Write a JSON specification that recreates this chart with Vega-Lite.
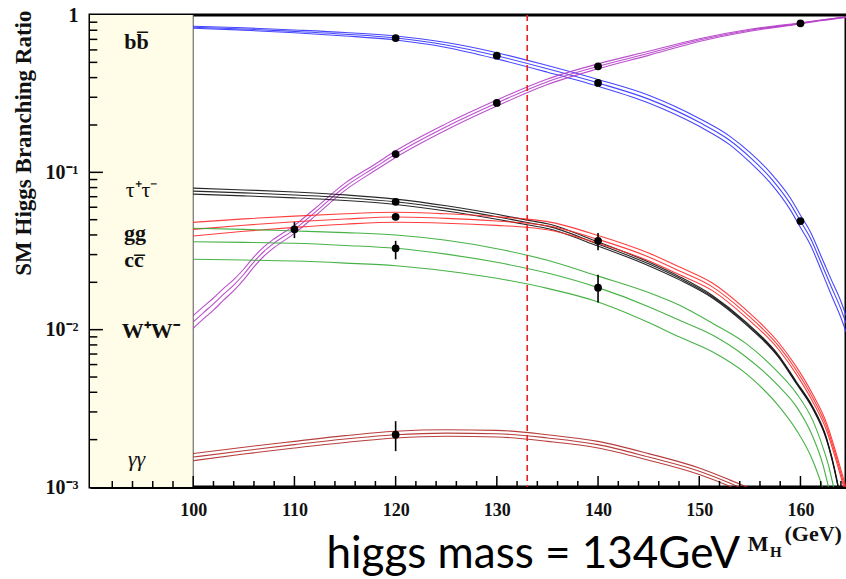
{
  "$schema": "https://vega.github.io/schema/vega-lite/v6.json",
  "width": 756,
  "height": 472,
  "autosize": {"type": "none"},
  "padding": {"left": 90, "top": 15, "right": 0, "bottom": 92},
  "background": "white",
  "config": {"view": {"stroke": "black", "strokeWidth": 3}},
  "datasets": {
    "curves": [
      {"ch":"bb","m":100,"lo":0.823,"mid":0.835,"hi":0.848},
      {"ch":"bb","m":105,"lo":0.801,"mid":0.815,"hi":0.829},
      {"ch":"bb","m":110,"lo":0.771,"mid":0.787,"hi":0.803},
      {"ch":"bb","m":115,"lo":0.736,"mid":0.755,"hi":0.774},
      {"ch":"bb","m":120,"lo":0.693,"mid":0.714,"hi":0.735},
      {"ch":"bb","m":125,"lo":0.622,"mid":0.645,"hi":0.668},
      {"ch":"bb","m":130,"lo":0.526,"mid":0.551,"hi":0.576},
      {"ch":"bb","m":135,"lo":0.433,"mid":0.455,"hi":0.477},
      {"ch":"bb","m":140,"lo":0.352,"mid":0.370,"hi":0.389},
      {"ch":"bb","m":145,"lo":0.276,"mid":0.292,"hi":0.309},
      {"ch":"bb","m":150,"lo":0.196,"mid":0.208,"hi":0.220},
      {"ch":"bb","m":153,"lo":0.150,"mid":0.160,"hi":0.170},
      {"ch":"bb","m":155,"lo":0.116,"mid":0.125,"hi":0.134},
      {"ch":"bb","m":157,"lo":0.086,"mid":0.093,"hi":0.100},
      {"ch":"bb","m":159,"lo":0.0577,"mid":0.063,"hi":0.0687},
      {"ch":"bb","m":160,"lo":0.0446,"mid":0.049,"hi":0.0534},
      {"ch":"bb","m":161,"lo":0.0344,"mid":0.038,"hi":0.0416},
      {"ch":"bb","m":162,"lo":0.0243,"mid":0.027,"hi":0.0297},
      {"ch":"bb","m":163,"lo":0.0169,"mid":0.019,"hi":0.0211},
      {"ch":"bb","m":164,"lo":0.0119,"mid":0.0135,"hi":0.0151},
      {"ch":"bb","m":164.5,"lo":0.0097,"mid":0.011,"hi":0.0123},

      {"ch":"WW","m":100,"lo":0.0102,"mid":0.0112,"hi":0.0123},
      {"ch":"WW","m":101,"lo":0.0117,"mid":0.0128,"hi":0.0140},
      {"ch":"WW","m":102,"lo":0.0133,"mid":0.0146,"hi":0.0159},
      {"ch":"WW","m":103,"lo":0.0154,"mid":0.0168,"hi":0.0183},
      {"ch":"WW","m":104,"lo":0.0177,"mid":0.0192,"hi":0.0208},
      {"ch":"WW","m":105,"lo":0.0208,"mid":0.0225,"hi":0.0243},
      {"ch":"WW","m":106,"lo":0.0251,"mid":0.0270,"hi":0.0290},
      {"ch":"WW","m":107,"lo":0.0294,"mid":0.0315,"hi":0.0337},
      {"ch":"WW","m":108,"lo":0.0333,"mid":0.0355,"hi":0.0378},
      {"ch":"WW","m":110,"lo":0.0409,"mid":0.0434,"hi":0.0460},
      {"ch":"WW","m":112,"lo":0.0525,"mid":0.0555,"hi":0.0587},
      {"ch":"WW","m":115,"lo":0.0768,"mid":0.081,"hi":0.0854},
      {"ch":"WW","m":118,"lo":0.103,"mid":0.108,"hi":0.113},
      {"ch":"WW","m":120,"lo":0.1244,"mid":0.1306,"hi":0.137},
      {"ch":"WW","m":125,"lo":0.186,"mid":0.195,"hi":0.204},
      {"ch":"WW","m":130,"lo":0.264,"mid":0.276,"hi":0.288},
      {"ch":"WW","m":135,"lo":0.362,"mid":0.377,"hi":0.392},
      {"ch":"WW","m":140,"lo":0.455,"mid":0.472,"hi":0.489},
      {"ch":"WW","m":145,"lo":0.554,"mid":0.571,"hi":0.588},
      {"ch":"WW","m":150,"lo":0.679,"mid":0.693,"hi":0.707},
      {"ch":"WW","m":155,"lo":0.789,"mid":0.800,"hi":0.811},
      {"ch":"WW","m":160,"lo":0.878,"mid":0.885,"hi":0.892},
      {"ch":"WW","m":162,"lo":0.920,"mid":0.925,"hi":0.930},
      {"ch":"WW","m":164.5,"lo":0.966,"mid":0.970,"hi":0.974},

      {"ch":"tt","m":100,"lo":0.0727,"mid":0.076,"hi":0.0794},
      {"ch":"tt","m":105,"lo":0.0709,"mid":0.074,"hi":0.0773},
      {"ch":"tt","m":110,"lo":0.0688,"mid":0.0718,"hi":0.0750},
      {"ch":"tt","m":115,"lo":0.0662,"mid":0.069,"hi":0.0719},
      {"ch":"tt","m":120,"lo":0.0625,"mid":0.065,"hi":0.0676},
      {"ch":"tt","m":125,"lo":0.0568,"mid":0.059,"hi":0.0613},
      {"ch":"tt","m":130,"lo":0.0503,"mid":0.0522,"hi":0.0541},
      {"ch":"tt","m":133,"lo":0.0464,"mid":0.048,"hi":0.0497},
      {"ch":"tt","m":135,"lo":0.0440,"mid":0.0455,"hi":0.0471},
      {"ch":"tt","m":140,"lo":0.0340,"mid":0.035,"hi":0.0361},
      {"ch":"tt","m":145,"lo":0.0255,"mid":0.0262,"hi":0.0269},
      {"ch":"tt","m":148,"lo":0.0208,"mid":0.0213,"hi":0.0218},
      {"ch":"tt","m":151.3,"lo":0.0159,"mid":0.0162,"hi":0.0165},
      {"ch":"tt","m":154.6,"lo":0.0108,"mid":0.011,"hi":0.0112},
      {"ch":"tt","m":157.9,"lo":0.0066,"mid":0.0067,"hi":0.0068},
      {"ch":"tt","m":159.6,"lo":0.00453,"mid":0.0046,"hi":0.00467},
      {"ch":"tt","m":161.2,"lo":0.00315,"mid":0.0032,"hi":0.00325},
      {"ch":"tt","m":162.6,"lo":0.00197,"mid":0.0020,"hi":0.00203},
      {"ch":"tt","m":163.6,"lo":0.00108,"mid":0.0011,"hi":0.00112},
      {"ch":"tt","m":164.0,"lo":0.00079,"mid":0.0008,"hi":0.00081},

      {"ch":"gg","m":100,"lo":0.0394,"mid":0.0434,"hi":0.0481},
      {"ch":"gg","m":105,"lo":0.0422,"mid":0.0461,"hi":0.0506},
      {"ch":"gg","m":110,"lo":0.0447,"mid":0.0485,"hi":0.0527},
      {"ch":"gg","m":115,"lo":0.0468,"mid":0.0505,"hi":0.0545},
      {"ch":"gg","m":120,"lo":0.0482,"mid":0.0520,"hi":0.0558},
      {"ch":"gg","m":125,"lo":0.0475,"mid":0.0510,"hi":0.0545},
      {"ch":"gg","m":130,"lo":0.0460,"mid":0.0490,"hi":0.0522},
      {"ch":"gg","m":133,"lo":0.0447,"mid":0.0475,"hi":0.0504},
      {"ch":"gg","m":135,"lo":0.0432,"mid":0.0458,"hi":0.0486},
      {"ch":"gg","m":140,"lo":0.0354,"mid":0.0375,"hi":0.0397},
      {"ch":"gg","m":145,"lo":0.0274,"mid":0.0290,"hi":0.0307},
      {"ch":"gg","m":148,"lo":0.0224,"mid":0.0237,"hi":0.0251},
      {"ch":"gg","m":151.3,"lo":0.0177,"mid":0.0187,"hi":0.0198},
      {"ch":"gg","m":154.6,"lo":0.0120,"mid":0.0127,"hi":0.0134},
      {"ch":"gg","m":157.9,"lo":0.0074,"mid":0.0078,"hi":0.0082},
      {"ch":"gg","m":159.6,"lo":0.0052,"mid":0.0055,"hi":0.0058},
      {"ch":"gg","m":161.2,"lo":0.0035,"mid":0.0037,"hi":0.0039},
      {"ch":"gg","m":162.6,"lo":0.00227,"mid":0.0024,"hi":0.00253},
      {"ch":"gg","m":163.6,"lo":0.00142,"mid":0.0015,"hi":0.00158},
      {"ch":"gg","m":164.2,"lo":0.00104,"mid":0.0011,"hi":0.00116},
      {"ch":"gg","m":164.5,"lo":0.0009,"mid":0.00095,"hi":0.001},

      {"ch":"cc","m":100,"lo":0.0280,"mid":0.0362,"hi":0.0441},
      {"ch":"cc","m":105,"lo":0.0277,"mid":0.0359,"hi":0.0434},
      {"ch":"cc","m":110,"lo":0.0273,"mid":0.0354,"hi":0.0424},
      {"ch":"cc","m":115,"lo":0.0265,"mid":0.0343,"hi":0.0414},
      {"ch":"cc","m":120,"lo":0.0255,"mid":0.0329,"hi":0.0400},
      {"ch":"cc","m":125,"lo":0.0236,"mid":0.0302,"hi":0.0370},
      {"ch":"cc","m":130,"lo":0.0212,"mid":0.0268,"hi":0.0327},
      {"ch":"cc","m":135,"lo":0.0183,"mid":0.0229,"hi":0.0276},
      {"ch":"cc","m":140,"lo":0.0150,"mid":0.0185,"hi":0.0219},
      {"ch":"cc","m":145,"lo":0.0111,"mid":0.0140,"hi":0.0172},
      {"ch":"cc","m":148,"lo":0.0090,"mid":0.0115,"hi":0.01435},
      {"ch":"cc","m":151.3,"lo":0.00724,"mid":0.00924,"hi":0.0110},
      {"ch":"cc","m":154.6,"lo":0.00527,"mid":0.00673,"hi":0.00818},
      {"ch":"cc","m":157.9,"lo":0.00324,"mid":0.00434,"hi":0.00527},
      {"ch":"cc","m":159.6,"lo":0.0023,"mid":0.00324,"hi":0.00394},
      {"ch":"cc","m":161.2,"lo":0.00148,"mid":0.0021,"hi":0.00266},
      {"ch":"cc","m":162.2,"lo":0.00098,"mid":0.0014,"hi":0.0018},
      {"ch":"cc","m":162.8,"lo":0.0007,"mid":0.00098,"hi":0.00135},
      {"ch":"cc","m":163.3,"lo":0.0005,"mid":0.0007,"hi":0.00098},

      {"ch":"yy","m":100,"lo":0.00147,"mid":0.00155,"hi":0.00163},
      {"ch":"yy","m":105,"lo":0.00162,"mid":0.0017,"hi":0.00179},
      {"ch":"yy","m":110,"lo":0.00177,"mid":0.00186,"hi":0.00195},
      {"ch":"yy","m":115,"lo":0.00192,"mid":0.00202,"hi":0.00212},
      {"ch":"yy","m":120,"lo":0.00205,"mid":0.00215,"hi":0.00226},
      {"ch":"yy","m":125,"lo":0.00210,"mid":0.0022,"hi":0.00231},
      {"ch":"yy","m":130,"lo":0.00208,"mid":0.00218,"hi":0.00229},
      {"ch":"yy","m":135,"lo":0.00195,"mid":0.00205,"hi":0.00215},
      {"ch":"yy","m":140,"lo":0.00177,"mid":0.00186,"hi":0.00195},
      {"ch":"yy","m":145,"lo":0.00148,"mid":0.00155,"hi":0.00163},
      {"ch":"yy","m":150,"lo":0.0012,"mid":0.00126,"hi":0.00132},
      {"ch":"yy","m":153,"lo":0.00101,"mid":0.00106,"hi":0.00111},
      {"ch":"yy","m":155,"lo":0.00088,"mid":0.00093,"hi":0.00098}
    ],
    "pts": [
      {"m":110,"v":0.0434,"elo":0.0382,"ehi":0.0483},
      {"m":120,"v":0.714},
      {"m":120,"v":0.1306},
      {"m":120,"v":0.065,"elo":0.062,"ehi":0.068},
      {"m":120,"v":0.0522},
      {"m":120,"v":0.0329,"elo":0.028,"ehi":0.0367},
      {"m":120,"v":0.00215,"elo":0.00169,"ehi":0.00262},
      {"m":130,"v":0.551},
      {"m":130,"v":0.276},
      {"m":140,"v":0.37},
      {"m":140,"v":0.472},
      {"m":140,"v":0.0367,"elo":0.032,"ehi":0.0412},
      {"m":140,"v":0.0185,"elo":0.0149,"ehi":0.0223},
      {"m":160,"v":0.885},
      {"m":160,"v":0.049}
    ],
    "xmaj": [{"m":100},{"m":110},{"m":120},{"m":130},{"m":140},{"m":150},{"m":160}],
    "xmin": [{"m":92},{"m":94},{"m":96},{"m":98},{"m":102},{"m":104},{"m":106},{"m":108},{"m":112},{"m":114},{"m":116},{"m":118},{"m":122},{"m":124},{"m":126},{"m":128},{"m":132},{"m":134},{"m":136},{"m":138},{"m":142},{"m":144},{"m":146},{"m":148},{"m":152},{"m":154},{"m":156},{"m":158},{"m":162},{"m":164}],
    "ymaj": [{"v":0.01},{"v":0.1}],
    "ymin": [{"v":0.002},{"v":0.003},{"v":0.004},{"v":0.005},{"v":0.006},{"v":0.007},{"v":0.008},{"v":0.009},{"v":0.02},{"v":0.03},{"v":0.04},{"v":0.05},{"v":0.06},{"v":0.07},{"v":0.08},{"v":0.09},{"v":0.2},{"v":0.3},{"v":0.4},{"v":0.5},{"v":0.6},{"v":0.7},{"v":0.8},{"v":0.9}],
    "one": [{}]
  },
  "layer": [
    {
      "data": {"name": "one"},
      "mark": {"type": "rect", "color": "#fffde8"},
      "encoding": {
        "x": {
          "datum": 89.8, "type": "quantitative",
          "scale": {"domain": [89.8, 164.5], "zero": false, "nice": false},
          "axis": {
            "title": "higgs mass = 134GeV",
            "grid": false,
            "ticks": false,
            "values": [100,110,120,130,140,150,160],
            "domainColor": "black", "domainWidth": 3,
            "labelFont": "Liberation Serif", "labelFontWeight": "bold", "labelFontSize": 18, "labelColor": "#111111",
            "labelPadding": 14, "labelFlush": false, "labelOverlap": false, "labelBaseline": "top",
            "titleFont": "Lato", "titleFontSize": 44, "titleFontWeight": "normal", "titleColor": "black",
            "titleAlign": "left", "titleBaseline": "alphabetic", "titleX": 236, "titleY": 80
          }
        },
        "x2": {"datum": 100},
        "y": {
          "datum": 0.001, "type": "quantitative",
          "scale": {"type": "log", "domain": [0.001, 1], "nice": false},
          "axis": {
            "title": "SM Higgs Branching Ratio",
            "grid": false,
            "ticks": false,
            "values": [0.001, 0.01, 0.1, 1],
            "labelExpr": "datum.value == 1 ? '1' : datum.value == 0.1 ? '10⁻¹' : datum.value == 0.01 ? '10⁻²' : '10⁻³'",
            "domainColor": "black", "domainWidth": 3,
            "labelFont": "Liberation Serif", "labelFontWeight": "bold", "labelFontSize": 20, "labelColor": "#111111",
            "labelPadding": 12, "labelOverlap": false, "labelFlush": false,
            "titleFont": "Liberation Serif", "titleFontSize": 23, "titleFontWeight": "bold", "titleColor": "#111111",
            "titleAngle": -90, "titleAlign": "right", "titleBaseline": "middle", "titleX": -67, "titleY": -5
          }
        },
        "y2": {"datum": 1}
      }
    },
    {
      "data": {"name": "one"},
      "mark": {"type": "rule", "color": "#555555", "strokeWidth": 1},
      "encoding": {"x": {"datum": 100, "type": "quantitative"}}
    },
    {
      "data": {"name": "curves"},
      "transform": [{"fold": ["lo", "mid", "hi"], "as": ["band", "v"]}],
      "mark": {"type": "line", "interpolate": "monotone", "clip": true, "strokeWidth": 1.1, "opacity": 0.9},
      "encoding": {
        "x": {"field": "m", "type": "quantitative"},
        "y": {"field": "v", "type": "quantitative"},
        "color": {
          "field": "ch", "type": "nominal", "legend": null,
          "scale": {"domain": ["cc", "yy", "gg", "tt", "bb", "WW"], "range": ["#33aa33", "#b02a2a", "#ff2a2a", "#111111", "#3333ff", "#b43cc8"]}
        },
        "detail": {"field": "band"}
      }
    },
    {
      "data": {"name": "one"},
      "mark": {"type": "rule", "color": "#e82020", "strokeWidth": 1.6, "strokeDash": [6, 4]},
      "encoding": {"x": {"datum": 133, "type": "quantitative"}}
    },
    {
      "data": {"name": "pts"},
      "transform": [{"filter": "isValid(datum.elo)"}],
      "mark": {"type": "rule", "color": "black", "strokeWidth": 1.6},
      "encoding": {
        "x": {"field": "m", "type": "quantitative"},
        "y": {"field": "elo", "type": "quantitative"},
        "y2": {"field": "ehi"}
      }
    },
    {
      "data": {"name": "pts"},
      "mark": {"type": "circle", "color": "black", "size": 60, "opacity": 1},
      "encoding": {
        "x": {"field": "m", "type": "quantitative"},
        "y": {"field": "v", "type": "quantitative"}
      }
    },
    {
      "data": {"name": "xmaj"},
      "mark": {"type": "rule", "color": "black", "strokeWidth": 1.5},
      "encoding": {"x": {"field": "m", "type": "quantitative"}, "y": {"datum": 0.001}, "y2": {"datum": 0.001175}}
    },
    {
      "data": {"name": "xmin"},
      "mark": {"type": "rule", "color": "black", "strokeWidth": 1.5},
      "encoding": {"x": {"field": "m", "type": "quantitative"}, "y": {"datum": 0.001}, "y2": {"datum": 0.001092}}
    },
    {
      "data": {"name": "ymaj"},
      "mark": {"type": "rule", "color": "black", "strokeWidth": 1.5},
      "encoding": {"y": {"field": "v", "type": "quantitative"}, "x": {"datum": 89.8}, "x2": {"datum": 91.08}}
    },
    {
      "data": {"name": "ymin"},
      "mark": {"type": "rule", "color": "black", "strokeWidth": 1.5},
      "encoding": {"y": {"field": "v", "type": "quantitative"}, "x": {"datum": 89.8}, "x2": {"datum": 90.52}}
    },
    {
      "data": {"name": "one"},
      "mark": {"type": "text", "font": "Liberation Serif", "fontWeight": "bold", "fontSize": 22, "color": "#111111"},
      "encoding": {"x": {"datum": 94.4}, "y": {"datum": 0.673}, "text": {"value": "bb̅"}}
    },
    {
      "data": {"name": "one"},
      "mark": {"type": "text", "font": "Liberation Serif", "fontSize": 22, "color": "#111111"},
      "encoding": {"x": {"datum": 94.9}, "y": {"datum": 0.077}, "text": {"value": "τ⁺τ⁻"}}
    },
    {
      "data": {"name": "one"},
      "mark": {"type": "text", "font": "Liberation Serif", "fontWeight": "bold", "fontSize": 22, "color": "#111111"},
      "encoding": {"x": {"datum": 94.25}, "y": {"datum": 0.0411}, "text": {"value": "gg"}}
    },
    {
      "data": {"name": "one"},
      "mark": {"type": "text", "font": "Liberation Serif", "fontWeight": "bold", "fontSize": 22, "color": "#111111"},
      "encoding": {"x": {"datum": 94.15}, "y": {"datum": 0.0277}, "text": {"value": "cc̅"}}
    },
    {
      "data": {"name": "one"},
      "mark": {"type": "text", "font": "Liberation Serif", "fontWeight": "bold", "fontSize": 22, "color": "#111111"},
      "encoding": {"x": {"datum": 95.8}, "y": {"datum": 0.0098}, "text": {"value": "W⁺W⁻"}}
    },
    {
      "data": {"name": "one"},
      "mark": {"type": "text", "font": "Liberation Serif", "fontStyle": "italic", "fontSize": 22, "color": "#111111"},
      "encoding": {"x": {"datum": 94.4}, "y": {"datum": 0.0015}, "text": {"value": "γγ"}}
    },
    {
      "data": {"name": "one"},
      "mark": {"type": "text", "font": "Liberation Serif", "fontWeight": "bold", "fontSize": 22, "color": "#111111", "align": "left", "baseline": "alphabetic"},
      "encoding": {"x": {"datum": 154.8}, "y": {"datum": 0.000391}, "text": {"value": "M"}}
    },
    {
      "data": {"name": "one"},
      "mark": {"type": "text", "font": "Liberation Serif", "fontWeight": "bold", "fontSize": 15, "color": "#111111", "align": "left", "baseline": "alphabetic"},
      "encoding": {"x": {"datum": 157.0}, "y": {"datum": 0.000358}, "text": {"value": "H"}}
    },
    {
      "data": {"name": "one"},
      "mark": {"type": "text", "font": "Liberation Serif", "fontWeight": "bold", "fontSize": 22, "color": "#111111", "align": "right", "baseline": "alphabetic"},
      "encoding": {"x": {"datum": 164.1}, "y": {"datum": 0.000453}, "text": {"value": "(GeV)"}}
    }
  ]
}
